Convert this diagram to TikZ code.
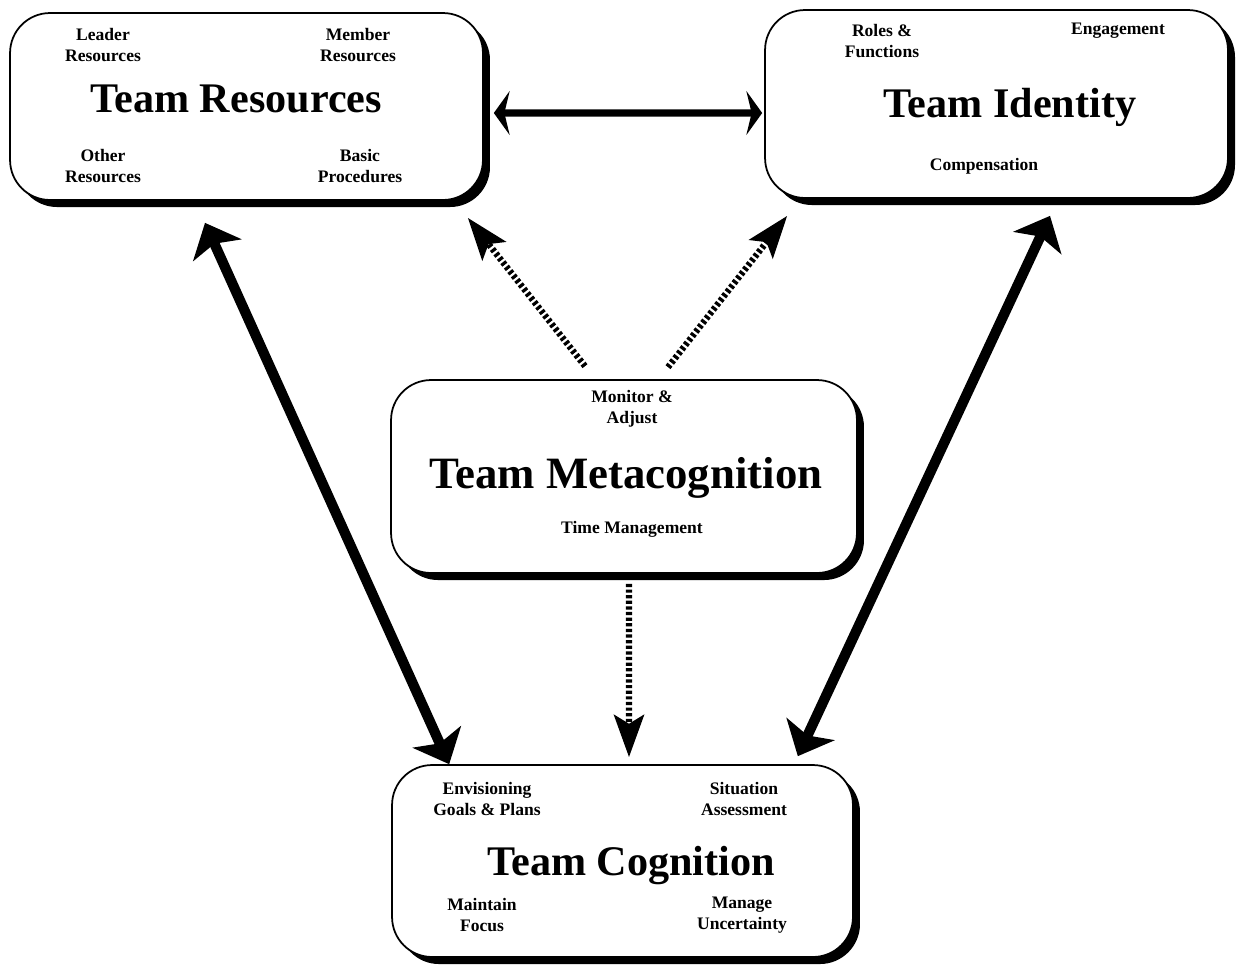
\documentclass[tikz,border=0pt]{standalone}
\usepackage{fontspec}
\setmainfont{Liberation Serif}
\usetikzlibrary{arrows.meta,calc,shadows}
\tikzset{
  box/.style={draw, line width=1pt, fill=white, rounded corners=0.8cm,
    drop shadow={shadow xshift=4pt, shadow yshift=-4pt, opacity=1, fill=black}},
  item/.style={font=\bfseries\fontsize{10}{12}\selectfont, align=center, inner sep=0pt},
  heading/.style={font=\bfseries\fontsize{#1}{28}\selectfont, anchor=base, inner sep=0pt},
  heading/.default=24,
  pair/.style={line width=4pt, {Stealth[length=9pt,width=25pt,inset=3pt]}-{Stealth[length=9pt,width=25pt,inset=3pt]}},
  link/.style={line width=5.8pt, {Stealth[length=17pt,width=30pt,inset=4pt]}-{Stealth[length=17pt,width=30pt,inset=4pt]}},
  flow/.style={line width=3.6pt, dash pattern=on 1.8pt off 1.4pt, -{Stealth[length=24pt,width=17pt,inset=5pt]}}
}
\begin{document}
\begin{tikzpicture}[x=0.02cm, y=-0.02cm]
    \useasboundingbox (0,0) rectangle (1236,965);
    % the four boxes
    \node[box, minimum width=9.46cm, minimum height=3.74cm] (res) at (246.5,106.5) {};
    \node[box, minimum width=9.26cm, minimum height=3.76cm] (ident) at (996.5,104) {};
    \node[box, minimum width=9.32cm, minimum height=3.86cm] (meta) at (624,476.5) {};
    \node[box, minimum width=9.22cm, minimum height=3.84cm] (cog) at (622.5,861) {};
    % team resources
    \node[heading] (resT) at (236,112) {Team Resources};
    \node[item] (leader) at (103,45) {Leader\\Resources};
    \node[item] (member) at (358,45) {Member\\Resources};
    \node[item] (other) at (103,166) {Other\\Resources};
    \node[item] (basic) at (360,166) {Basic\\Procedures};
    % team identity
    \node[heading] (identT) at (1010,117) {Team Identity};
    \node[item] (roles) at (882,41) {Roles \&\\Functions};
    \node[item] (engage) at (1118,31) {Engagement};
    \node[item] (comp) at (984,166) {Compensation};
    % team metacognition
    \node[heading=25.5] (metaT) at (626,488) {Team Metacognition};
    \node[item] (monitor) at (632,409) {Monitor \&\\Adjust};
    \node[item] (time) at (632,529) {Time Management};
    % team cognition
    \node[heading] (cogT) at (631,875) {Team Cognition};
    \node[item] (envision) at (487,799) {Envisioning\\Goals \& Plans};
    \node[item] (situation) at (744,799) {Situation\\Assessment};
    \node[item] (focus) at (482,915) {Maintain\\Focus};
    \node[item] (uncert) at (742,915) {Manage\\Uncertainty};
    % connectors
    \draw[pair] ($(res.east)+(10,6.5)$) -- ($(ident.west)+(-2,9)$);
    \draw[link] ($(res.south)+(-41.5,22)$) -- ($(cog.north west)+(58,0)$);
    \draw[link] ($(ident.south)+(53.5,17)$) -- ($(cog.north east)+(-56,-8)$);
    \draw[flow] ($(meta.north)+(-39,-13)$) -- ($(res.south east)+(-16,17)$);
    \draw[flow] ($(meta.north)+(44,-12)$) -- ($(ident.south west)+(23,17)$);
    \draw[flow] ($(meta.south)+(5,10)$) -- ($(cog.north)+(6.5,-7)$);
\end{tikzpicture}
\end{document}
